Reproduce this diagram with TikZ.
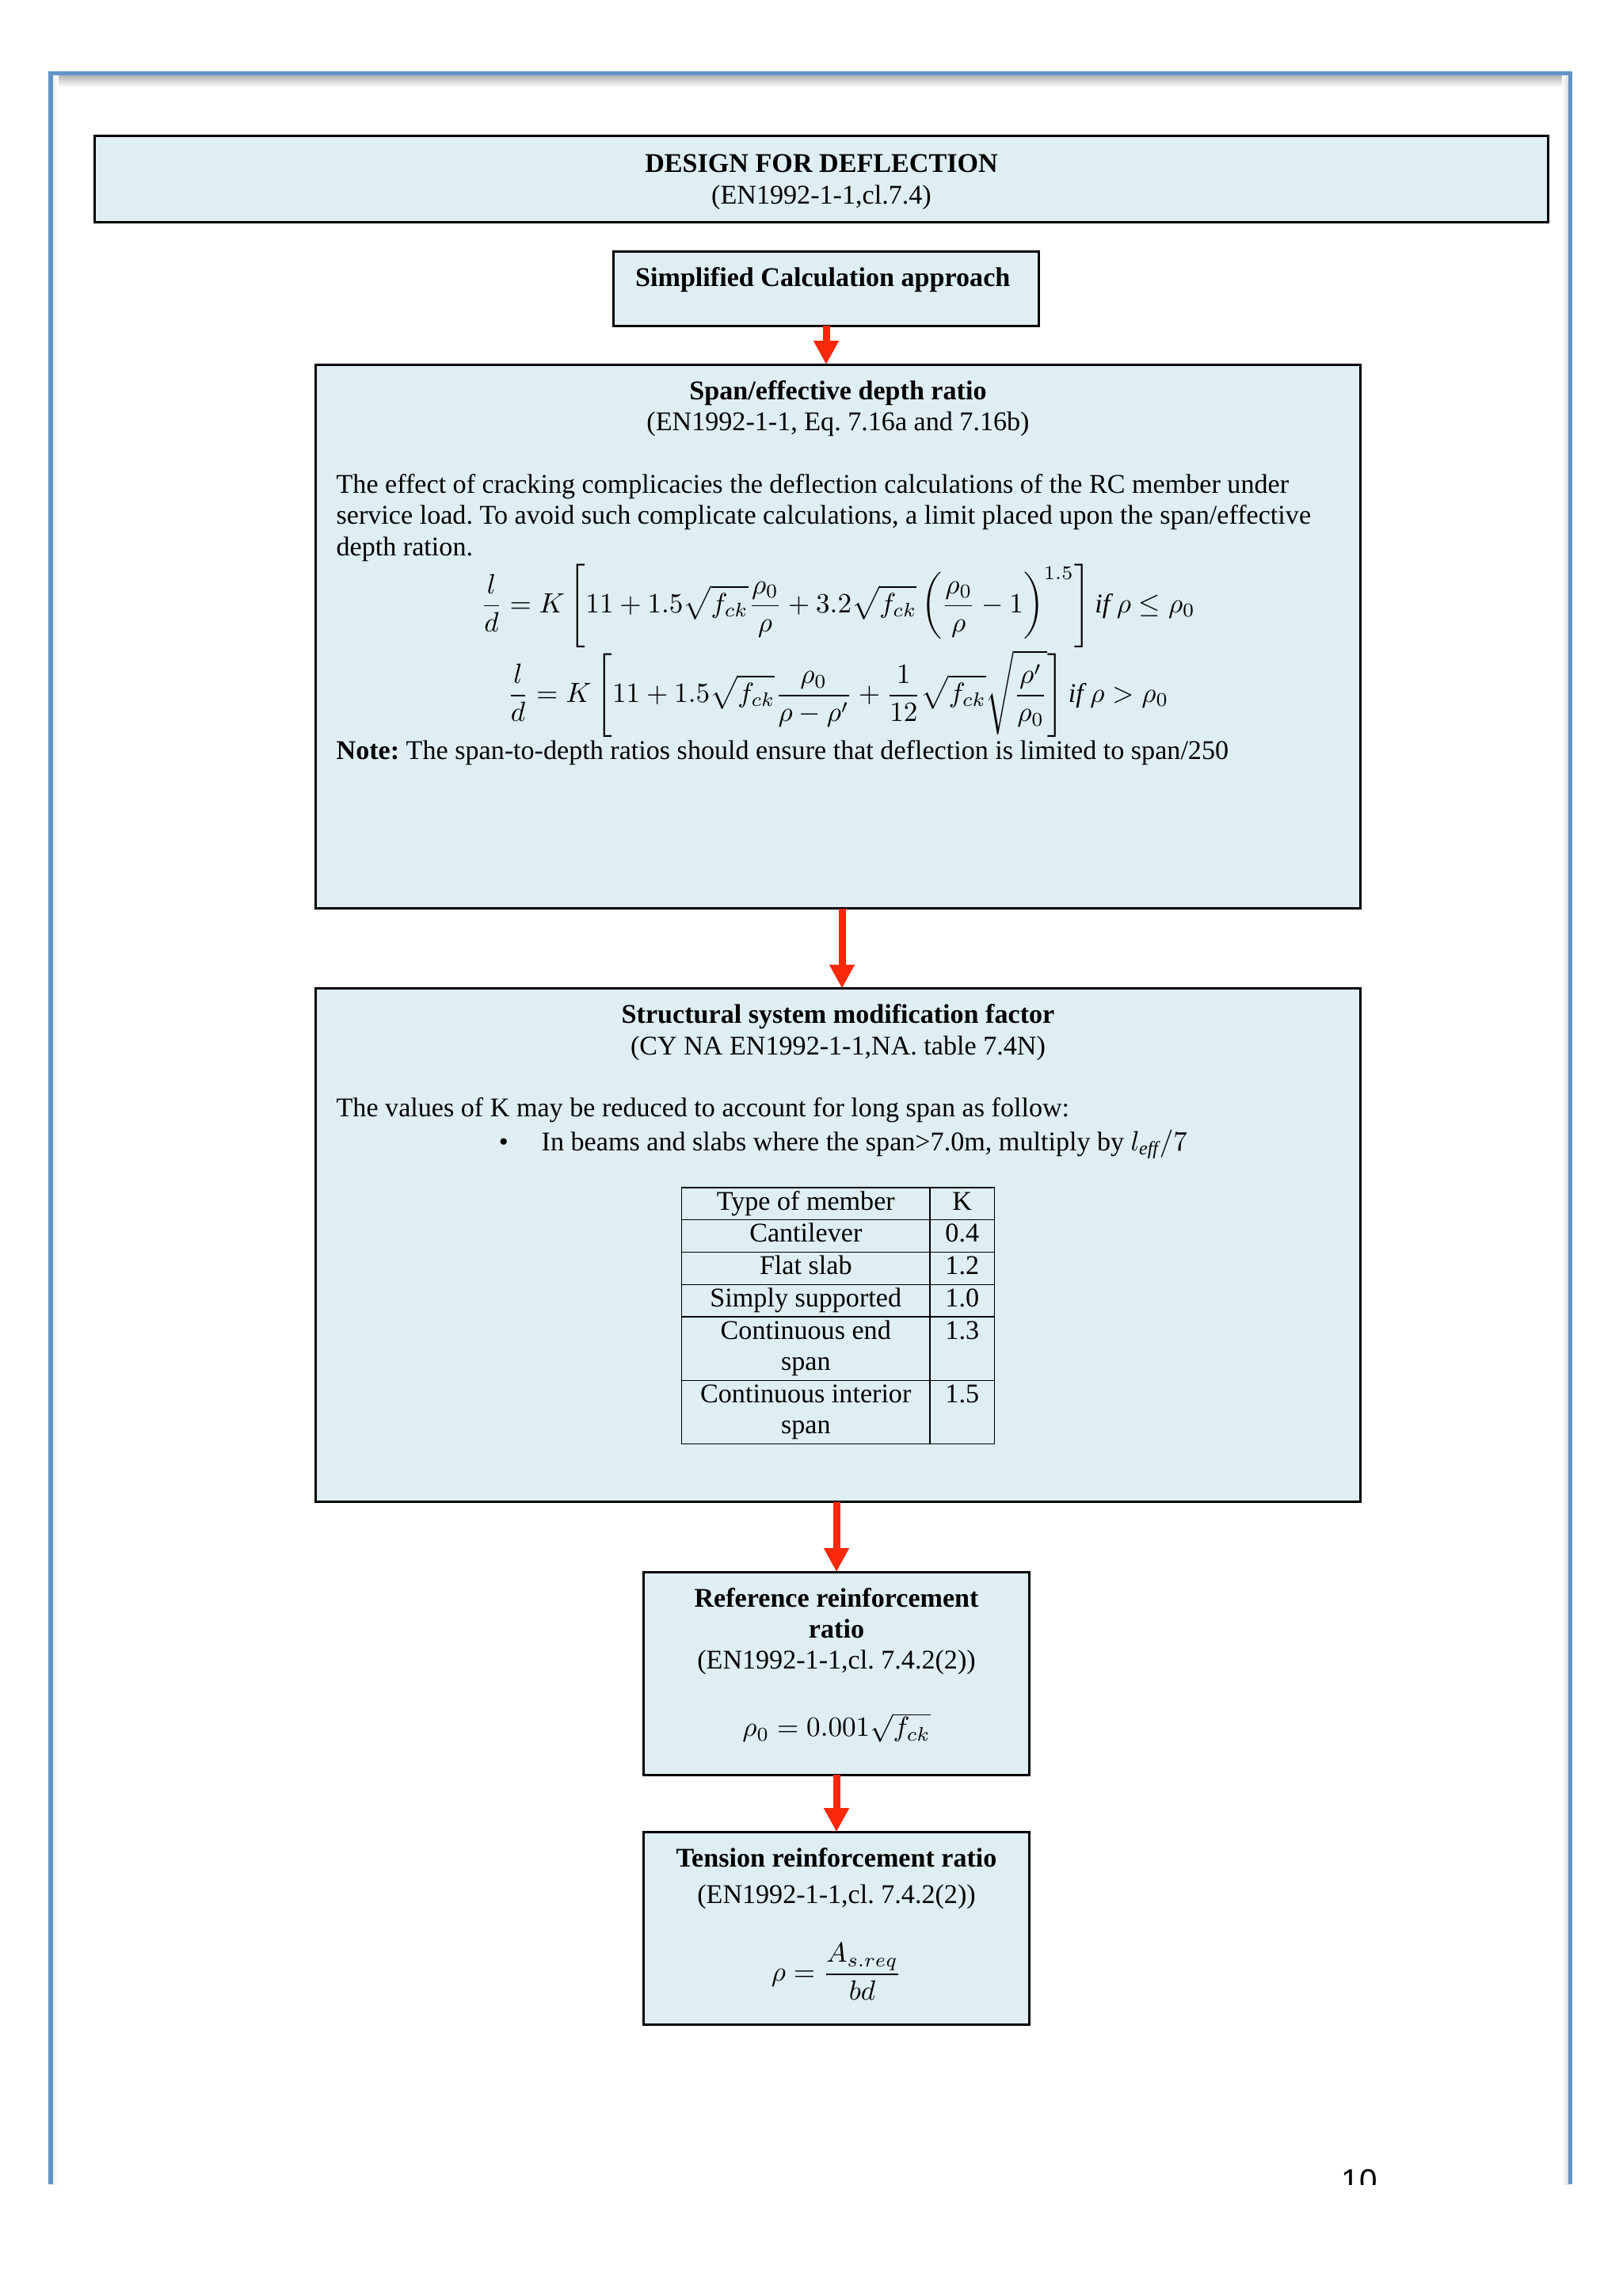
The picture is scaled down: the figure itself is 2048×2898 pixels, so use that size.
\documentclass[tikz,border=0pt]{standalone}
\usepackage{fontspec}
\setmainfont{Liberation Serif}
\newfontfamily\pagenofont{Liberation Sans}
\usepackage{amsmath}
\usepackage{array}
\frenchspacing
\usetikzlibrary{
  positioning,
  calc,
  arrows.meta}
\definecolor{boxcolor}{RGB}{222,238,243}
\definecolor{arrowcolor}{RGB}{250,40,10}
\definecolor{framecolor}{RGB}{98,148,200}
\tikzset{
  %% flow_arrow : red block arrow from one box to the next
  flow_arrow/.style={arrowcolor, line width=0.09cm,
    -{Triangle[width=0.3cm, length=0.3cm]}},
  %% headbox : box with its text set in the middle
  headbox/.style={
    rectangle,
    draw=black,
    line width=0.85pt,
    fill=boxcolor,
    inner sep=0pt,
    outer sep=0pt,
    align=flush center
  },
  %% stepbox : frame of a calculation step, text comes on top of it
  stepbox/.style={
    rectangle,
    draw=black,
    line width=0.85pt,
    fill=boxcolor,
    inner sep=0pt,
    outer sep=0pt
  },
  %% boxtext : the text inside a stepbox
  boxtext/.style={
    inner sep=0pt,
    outer sep=0pt,
    align=flush center
  },
  %% pageframe : blue lines round the page
  pageframe/.style={framecolor, line width=0.05cm}
}

\begin{document}
\begin{tikzpicture}
  [x=0.01cm,
  y=-0.01cm]
  \fontsize{9.7}{11.2}\selectfont

  \useasboundingbox (0,0) rectangle (2048,2898);
  \fill [white] (0,0) rectangle (2048,2898);

  %% Page frame
  \shade [top color=black!30, bottom color=white] (64,95) rectangle (1982,110);
  \shade [left color=black!6, right color=white] (66,95) rectangle (74,2757);
  \shade [left color=white, right color=black!15] (1972,95) rectangle (1980,2757);
  \draw [pageframe] (64,2757) -- (64,93) -- (1982,93) -- (1982,2757);

  %% Boxes
  \node (design) [headbox, minimum width=18.34cm, minimum height=1.08cm]
  at (1037,226) {%
    \rule{0pt}{8.6pt}\textbf{DESIGN FOR DEFLECTION}\\
    (EN1992-1-1,cl.7.4)
  };

  \node (simplified) [below=0.37cm of design, xshift=0.06cm, stepbox,
    minimum width=5.36cm, minimum height=0.94cm]{};
  \node (simplified-txt) [below=0.2cm of simplified.north, boxtext]{%
    \textbf{Simplified Calculation approach}
  };

  \node (spanratio) [below=0.49cm of simplified, xshift=0.15cm, stepbox,
    minimum width=13.18cm, minimum height=6.86cm]{};
  \node (spanratio-txt) [below=0.2cm of spanratio.north, boxtext,
    text width=12.66cm]{%
    \textbf{Span/effective depth ratio}\\
    (EN1992-1-1, Eq. 7.16a and 7.16b)\\[11.2pt]
    {\raggedright The effect of cracking complicacies the deflection
      calculations of the RC member under\\
      service load. To avoid such complicate calculations, a limit placed
      upon the span/effective\\
      depth ration.\par}
    $\displaystyle \frac{l}{d} = K\left[11 + 1.5\sqrt{f_{ck}}\frac{\rho_0}{\rho}
      + 3.2\sqrt{f_{ck}}\left(\frac{\rho_0}{\rho} - 1\right)^{1.5}\right]
      \mathit{if}\ \rho \le \rho_0$\\
    $\displaystyle \frac{l}{d} = K\left[11 + 1.5\sqrt{f_{ck}}\frac{\rho_0}{\rho - \rho'}
      + \frac{1}{12}\sqrt{f_{ck}}\sqrt{\frac{\rho'}{\rho_0}}\right]
      \mathit{if}\ \rho > \rho_0$\\
    {\raggedright\textbf{Note:} The span-to-depth ratios should ensure that
      deflection is limited to span/250\par}
  };

  \node (modfactor) [below=1.01cm of spanratio, stepbox,
    minimum width=13.18cm, minimum height=6.48cm]{};
  \node (modfactor-txt) [below=0.2cm of modfactor.north, boxtext,
    text width=12.66cm]{%
    \textbf{Structural system modification factor}\\
    (CY NA EN1992-1-1,NA. table 7.4N)\\[11.2pt]
    {\raggedright The values of K may be reduced to account for long span
      as follow:\\[1pt]
      \hspace*{2.05cm}\textbullet\hspace{0.42cm}In beams and slabs where the
      span>7.0m, multiply by $l_{\mathit{eff}}/7$\par}
    \vspace{9pt}
    \setlength{\tabcolsep}{0.18cm}%
    \begin{tabular}{|>{\centering\arraybackslash}p{2.76cm}|>{\centering\arraybackslash}p{0.44cm}|}
      \hline
      Type of member & K\\ \hline
      Cantilever & 0.4\\ \hline
      Flat slab & 1.2\\ \hline
      Simply supported & 1.0\\ \hline
      Continuous end span & 1.3\\ \hline
      Continuous interior span & 1.5\\ \hline
    \end{tabular}
  };

  \node (refratio) [below=0.88cm of modfactor, xshift=-0.02cm, stepbox,
    minimum width=4.87cm, minimum height=2.56cm]{};
  \node (refratio-txt) [below=0.2cm of refratio.north, boxtext,
    text width=4.5cm]{%
    \textbf{Reference reinforcement}\\
    \textbf{ratio}\\
    (EN1992-1-1,cl. 7.4.2(2))\\[13pt]
    $\rho_0 = 0.001\sqrt{f_{ck}}$
  };

  \node (tensratio) [below=0.72cm of refratio, stepbox,
    minimum width=4.87cm, minimum height=2.43cm]{};
  \node (tensratio-txt) [below=0.2cm of tensratio.north, boxtext,
    text width=4.5cm]{%
    \textbf{Tension reinforcement ratio}\\[2pt]
    (EN1992-1-1,cl. 7.4.2(2))\\[11.2pt]
    $\displaystyle \rho = \frac{A_{s.req}}{bd}$
  };

  %% Connections
  \draw [flow_arrow] (simplified.south) -- (simplified.south |- spanratio.north);
  \draw [flow_arrow] ([xshift=0.05cm]spanratio.south) -- ([xshift=0.05cm]modfactor.north);
  \draw [flow_arrow] (refratio.north |- modfactor.south) -- (refratio.north);
  \draw [flow_arrow] (refratio.south) -- (tensratio.north);

  %% Page number, cut at the foot of the frame
  \begin{scope}
    \clip (0,0) rectangle (2048,2757);
    \node (pageno) [anchor=base, inner sep=0pt,
      font=\pagenofont\fontsize{11.5}{13}\selectfont] at (1716,2766) {10};
  \end{scope}

\end{tikzpicture}
\end{document}
